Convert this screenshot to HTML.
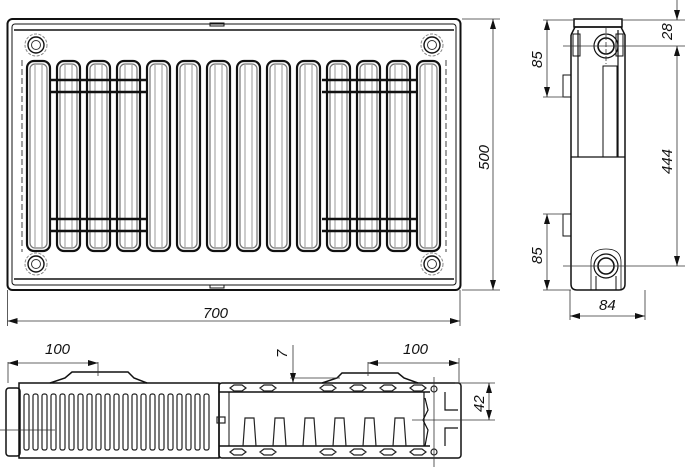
<!DOCTYPE html>
<html><head><meta charset="utf-8"><style>
html,body{margin:0;padding:0;background:#fff}
svg{display:block}
text{font-family:"Liberation Sans",sans-serif;font-style:italic;font-size:15px;fill:#111}
</style></head><body>
<svg width="685" height="467" viewBox="0 0 685 467" xmlns="http://www.w3.org/2000/svg">
<defs>
<marker id="a" viewBox="0 0 10 6" refX="10" refY="3" markerWidth="10" markerHeight="6" orient="auto-start-reverse" markerUnits="userSpaceOnUse"><path d="M0,0 L10,3 L0,6 z" fill="#111"/></marker>
<g id="tube">
<rect x="0" y="0" width="23" height="190" rx="7" fill="none" stroke="#111" stroke-width="2.2"/>
<rect x="3" y="3" width="17" height="184" rx="5" fill="none" stroke="#777" stroke-width="1.2"/>
<line x1="8" y1="4" x2="8" y2="186" stroke="#999" stroke-width="1"/>
<line x1="15" y1="4" x2="15" y2="186" stroke="#999" stroke-width="1"/>
</g>
<g id="boss">
<circle r="11" fill="none" stroke="#888" stroke-width="1" stroke-dasharray="3,1.5"/>
<circle r="8" fill="none" stroke="#111" stroke-width="1.4"/>
<circle r="4.5" fill="none" stroke="#333" stroke-width="1"/>
</g>
</defs>
<g fill="none" stroke="#111">
<!-- FRONT VIEW -->
<rect x="7.5" y="19" width="453" height="271" rx="5" stroke-width="2"/>
<rect x="12" y="24" width="444" height="261" rx="3" stroke-width="1"/>
<line x1="14" y1="30" x2="454" y2="30" stroke-width="1.5"/>
<line x1="14" y1="279" x2="454" y2="279" stroke-width="1.5"/>
<line x1="22" y1="60" x2="22" y2="252" stroke-width="0.8" stroke-dasharray="6,3"/>
<line x1="446" y1="60" x2="446" y2="252" stroke-width="0.8" stroke-dasharray="6,3"/>
<rect x="210" y="23" width="14" height="3" stroke-width="1"/>
<rect x="210" y="285" width="14" height="3" stroke-width="1"/>
</g>
<use href="#boss" x="36" y="45"/><use href="#boss" x="432" y="45"/>
<use href="#boss" x="36" y="264"/><use href="#boss" x="432" y="264"/>
<g>
<use href="#tube" x="27" y="61"/><use href="#tube" x="57" y="61"/><use href="#tube" x="87" y="61"/><use href="#tube" x="117" y="61"/><use href="#tube" x="147" y="61"/><use href="#tube" x="177" y="61"/><use href="#tube" x="207" y="61"/><use href="#tube" x="237" y="61"/><use href="#tube" x="267" y="61"/><use href="#tube" x="297" y="61"/><use href="#tube" x="327" y="61"/><use href="#tube" x="357" y="61"/><use href="#tube" x="387" y="61"/><use href="#tube" x="417" y="61"/>
</g>
<g stroke="#111" stroke-width="2.5">
<line x1="50" y1="80" x2="146" y2="80"/><line x1="50" y1="92" x2="146" y2="92"/>
<line x1="322" y1="80" x2="416" y2="80"/><line x1="322" y1="92" x2="416" y2="92"/>
<line x1="50" y1="219" x2="146" y2="219"/><line x1="50" y1="231" x2="146" y2="231"/>
<line x1="322" y1="219" x2="416" y2="219"/><line x1="322" y1="231" x2="416" y2="231"/>
</g>
<!-- front dims -->
<g stroke="#333" stroke-width="0.8" fill="none">
<line x1="462" y1="19" x2="500" y2="19"/><line x1="462" y1="290" x2="500" y2="290"/>
<line x1="493" y1="19" x2="493" y2="290" marker-start="url(#a)" marker-end="url(#a)"/>
<line x1="7.5" y1="290" x2="7.5" y2="326"/><line x1="460" y1="290" x2="460" y2="326"/>
<line x1="7.5" y1="321" x2="460" y2="321" marker-start="url(#a)" marker-end="url(#a)"/>
</g>
<text x="203" y="318">700</text>
<text transform="translate(489,170) rotate(-90)">500</text>
<!-- SIDE VIEW -->
<g fill="none" stroke="#111">
<rect x="574" y="19" width="48" height="8" stroke-width="1.5"/>
<path d="M571,35 L575,27 L621,27 L625,35 L625,155" stroke-width="1.5"/>
<path d="M571,35 L571,284 Q571,290 577,290 L619,290 Q625,290 625,284 L625,155" stroke-width="1.5"/>
<line x1="578" y1="30" x2="578" y2="157" stroke-width="1.2"/>
<line x1="618" y1="30" x2="618" y2="157" stroke-width="1.2"/>
<line x1="571" y1="157" x2="625" y2="157" stroke-width="1.2"/>
<rect x="603" y="66" width="14" height="91" stroke-width="1"/>
<rect x="563" y="75" width="8" height="22" stroke-width="1"/>
<rect x="563" y="214" width="8" height="22" stroke-width="1"/>
<rect x="573" y="34" width="7" height="22" stroke-width="1"/>
<rect x="616" y="34" width="7" height="22" stroke-width="1"/>
<circle cx="606" cy="46" r="12" stroke-width="1.2"/><circle cx="606" cy="46" r="8" stroke-width="1.6"/>
<circle cx="606" cy="266" r="12" stroke-width="1.2"/><circle cx="606" cy="266" r="8" stroke-width="1.6"/>
<path d="M591,290 L591,262 Q591,249 606,249 Q621,249 621,262 L621,290" stroke-width="0.8"/>
<path d="M596,290 L596,276 M616,290 L616,276" stroke-width="1"/>
</g>
<g stroke="#333" stroke-width="0.8" fill="none">
<line x1="543" y1="20" x2="575" y2="20"/><line x1="543" y1="97" x2="564" y2="97"/>
<line x1="547" y1="20" x2="547" y2="97" marker-start="url(#a)" marker-end="url(#a)"/>
<line x1="543" y1="214" x2="564" y2="214"/><line x1="543" y1="290" x2="571" y2="290"/>
<line x1="547" y1="214" x2="547" y2="290" marker-start="url(#a)" marker-end="url(#a)"/>
<line x1="622" y1="20" x2="685" y2="20"/><line x1="563" y1="46" x2="685" y2="46"/>
<line x1="563" y1="266" x2="685" y2="266"/>
<line x1="677" y1="0" x2="677" y2="20" marker-end="url(#a)"/>
<line x1="677" y1="46" x2="677" y2="266" marker-start="url(#a)" marker-end="url(#a)"/>
<line x1="570" y1="290" x2="570" y2="320"/><line x1="645" y1="290" x2="645" y2="320"/>
<line x1="570" y1="316" x2="645" y2="316" marker-start="url(#a)" marker-end="url(#a)"/>
<line x1="606" y1="28" x2="606" y2="64" stroke-dasharray="5,2"/>
</g>
<text transform="translate(542,68) rotate(-90)">85</text>
<text transform="translate(542,264) rotate(-90)">85</text>
<text transform="translate(672,40) rotate(-90)">28</text>
<text transform="translate(672,174) rotate(-90)">444</text>
<text x="599" y="310">84</text>
<!-- BOTTOM VIEW -->
<g fill="none" stroke="#111">
<rect x="6" y="388" width="14" height="68" rx="3" stroke-width="1.5"/>
<rect x="19" y="383" width="200" height="75" stroke-width="1.5"/>
<rect x="219" y="383" width="242" height="75" rx="3" stroke-width="1.5"/>
<path d="M50,383 L65,378 L72,372 L128,372 L134,378 L147,383" stroke-width="1.5"/>
<path d="M322,383 L337,378 L342,373 L398,373 L404,378 L418,383" stroke-width="1.5"/>
<line x1="219" y1="392" x2="430" y2="392" stroke-width="1.5"/>
<line x1="219" y1="446" x2="430" y2="446" stroke-width="1.5"/>
<line x1="229" y1="392" x2="229" y2="446" stroke-width="1"/>
<line x1="424" y1="392" x2="424" y2="446" stroke-width="1.2"/>
<path d="M425,398 L428,410 L423,420 L428,430 L425,446" stroke-width="1.2"/>
<path d="M445,392 L445,410 L458,410 M445,446 L445,428 L458,428" stroke-width="1.2"/>
</g>
<g fill="none" stroke="#222" stroke-width="1.2">
<rect x="24" y="394" width="5" height="56" rx="2"/><rect x="33" y="394" width="5" height="56" rx="2"/><rect x="42" y="394" width="5" height="56" rx="2"/><rect x="51" y="394" width="5" height="56" rx="2"/><rect x="60" y="394" width="5" height="56" rx="2"/><rect x="69" y="394" width="5" height="56" rx="2"/><rect x="78" y="394" width="5" height="56" rx="2"/><rect x="87" y="394" width="5" height="56" rx="2"/><rect x="96" y="394" width="5" height="56" rx="2"/><rect x="105" y="394" width="5" height="56" rx="2"/><rect x="114" y="394" width="5" height="56" rx="2"/><rect x="123" y="394" width="5" height="56" rx="2"/><rect x="132" y="394" width="5" height="56" rx="2"/><rect x="141" y="394" width="5" height="56" rx="2"/><rect x="150" y="394" width="5" height="56" rx="2"/><rect x="159" y="394" width="5" height="56" rx="2"/><rect x="168" y="394" width="5" height="56" rx="2"/><rect x="177" y="394" width="5" height="56" rx="2"/><rect x="186" y="394" width="5" height="56" rx="2"/><rect x="195" y="394" width="5" height="56" rx="2"/><rect x="204" y="394" width="5" height="56" rx="2"/>
<path d="M243,446 L245,418 L254,418 L256,446 M273,446 L275,418 L284,418 L286,446 M303,446 L305,418 L314,418 L316,446 M333,446 L335,418 L344,418 L346,446 M363,446 L365,418 L374,418 L376,446 M393,446 L395,418 L404,418 L406,446"/>
<path d="M230,388 l4,-3 h8 l4,3 l-4,3 h-8z M260,388 l4,-3 h8 l4,3 l-4,3 h-8z M320,388 l4,-3 h8 l4,3 l-4,3 h-8z M350,388 l4,-3 h8 l4,3 l-4,3 h-8z M380,388 l4,-3 h8 l4,3 l-4,3 h-8z M410,388 l4,-3 h8 l4,3 l-4,3 h-8z"/>
<path d="M230,452 l4,-3 h8 l4,3 l-4,3 h-8z M260,452 l4,-3 h8 l4,3 l-4,3 h-8z M320,452 l4,-3 h8 l4,3 l-4,3 h-8z M350,452 l4,-3 h8 l4,3 l-4,3 h-8z M380,452 l4,-3 h8 l4,3 l-4,3 h-8z M410,452 l4,-3 h8 l4,3 l-4,3 h-8z"/>
<circle cx="434" cy="389" r="3"/><circle cx="434" cy="452" r="3"/>
<rect x="217" y="417" width="8" height="6"/>
</g>
<g stroke="#333" stroke-width="0.8" fill="none">
<line x1="8" y1="362" x2="8" y2="383"/><line x1="98" y1="362" x2="98" y2="376"/>
<line x1="8" y1="363" x2="98" y2="363" marker-start="url(#a)" marker-end="url(#a)"/>
<line x1="368" y1="362" x2="368" y2="376"/><line x1="459" y1="358" x2="459" y2="383"/>
<line x1="368" y1="363" x2="459" y2="363" marker-start="url(#a)" marker-end="url(#a)"/>
<line x1="293" y1="345" x2="293" y2="383" marker-end="url(#a)"/>
<line x1="290" y1="378" x2="340" y2="378"/>
<line x1="455" y1="383" x2="495" y2="383"/><line x1="412" y1="420" x2="495" y2="420"/>
<line x1="489" y1="383" x2="489" y2="420" marker-start="url(#a)" marker-end="url(#a)"/>
<line x1="434" y1="377" x2="434" y2="467"/>
<line x1="0" y1="430" x2="55" y2="430"/>
</g>
<text x="45" y="354">100</text>
<text x="403" y="354">100</text>
<text transform="translate(287,358) rotate(-90)">7</text>
<text transform="translate(484,412) rotate(-90)">42</text>
</svg>
</body></html>
